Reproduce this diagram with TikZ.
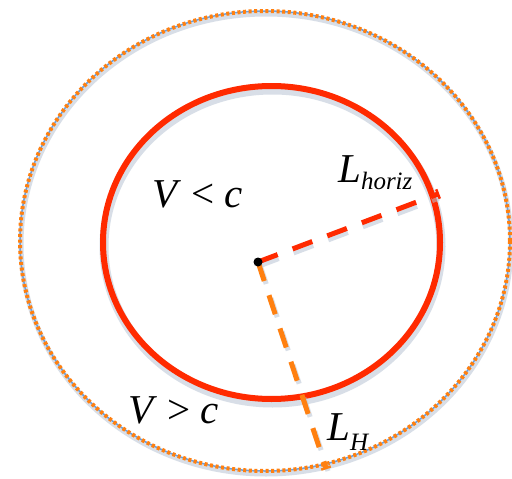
\documentclass[tikz,border=0pt]{standalone}
\usepackage{fontspec}
\setmainfont{Liberation Serif}
\usetikzlibrary{calc}
\definecolor{hred}{HTML}{FF2A00}
\definecolor{horange}{HTML}{FF8010}
\definecolor{hblue}{HTML}{6E9FDA}
\definecolor{hshadow}{HTML}{B8C4D4}
\tikzset{
  shadowline/.style={hshadow, opacity=0.55},
  innercircle/.style={hred, line width=6pt},
  outerbase/.style={hblue, line width=1.5pt},
  outerdots/.style={horange, line width=4pt, dash pattern=on 3pt off 2.6pt},
  reddash/.style={hred, line width=5pt, dash pattern=on 21pt off 16pt},
  orangedash/.style={horange, line width=5pt, dash pattern=on 20pt off 15pt},
  endtick/.style={line width=2.5pt},
  lbl/.style={inner sep=0pt, font=\fontsize{41}{44}\selectfont},
}
\begin{document}
\begin{tikzpicture}[x=1pt,y=-1pt]
\useasboundingbox[fill=white] (0,0) rectangle (512,479);
% shadows
\draw[shadowline, line width=5pt] (266,244) ellipse [x radius=245, y radius=230];
\draw[shadowline, line width=9pt] (272.5,246.5) ellipse [x radius=168.5, y radius=156.5];
% outer dotted circle
\draw[outerbase] (265,241) ellipse [x radius=245, y radius=230];
\draw[outerdots] (265,241) ellipse [x radius=245, y radius=230];
% inner circle
\draw[innercircle] (271.5,242.5) ellipse [x radius=168.5, y radius=156.5];
% radii
\coordinate (c) at (258,262);
\coordinate (hr) at (438,194);
\coordinate (hh) at (326,468);
\draw[shadowline, line width=5pt, dash pattern=on 21pt off 16pt] ([shift={(1,4)}]c) -- ([shift={(1,4)}]hr);
\draw[shadowline, line width=5pt, dash pattern=on 20pt off 15pt] ([shift={(2,3)}]c) -- ([shift={(2,3)}]hh);
\draw[reddash] (c) -- (hr);
\draw[orangedash] (c) -- (hh);
\draw[endtick, hred] ($(hr)!5pt!90:(c)$) -- ($(hr)!5pt!-90:(c)$);
\draw[endtick, horange] ($(hh)!5pt!90:(c)$) -- ($(hh)!5pt!-90:(c)$);
\fill[black] (c) circle (4.5pt);
% labels
\node[lbl, anchor=base west] (vin) at (152,207) {\textit{V} {<} \textit{c}};
\node[lbl, anchor=base west] (vout) at (128,423) {\textit{V} {>} \textit{c}};
\node[lbl, anchor=base west] (lh) at (338,182) {\textit{L}\raisebox{-7pt}{\fontsize{25}{28}\selectfont\textit{horiz}}};
\node[lbl, anchor=base west] (lH) at (327,440) {\textit{L}\raisebox{-10pt}{\fontsize{25}{28}\selectfont\textit{H}}};
\end{tikzpicture}
\end{document}
